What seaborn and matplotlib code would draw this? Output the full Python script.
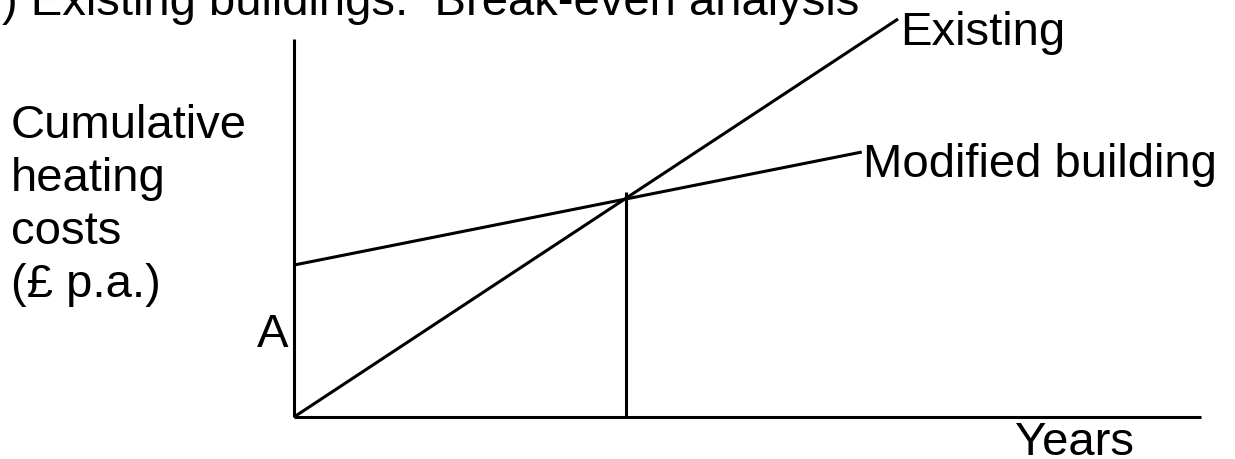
import matplotlib
matplotlib.use("Agg")
import matplotlib.pyplot as plt
import seaborn as sns
import pandas as pd

# break-even sketch: cumulative heating cost vs years (arbitrary units)
existing_years = [0, 6.66]
existing_cost = [0, 10.53]
modified_years = [0, 6.26]
modified_cost = [4.02, 7.01]
breakeven_year = 3.66
breakeven_top = 5.95

sns.set_style("white")
plt.rcParams['font.family'] = ['Liberation Sans', 'DejaVu Sans']
plt.rcParams['text.color'] = 'black'

df = pd.concat([
    pd.DataFrame({'years': existing_years, 'cost': existing_cost, 'type': 'Existing'}),
    pd.DataFrame({'years': modified_years, 'cost': modified_cost, 'type': 'Modified building'}),
], ignore_index=True)

fig = plt.figure(figsize=(12.35, 4.6), dpi=100)
ax = fig.add_axes([0, 0, 1, 1])

lw = 2.2
sns.lineplot(data=df, x='years', y='cost', hue='type', units='type', estimator=None,
             palette=['black', 'black'], linewidth=lw, legend=False, ax=ax,
             solid_capstyle='butt')
ax.plot([breakeven_year, breakeven_year], [0, breakeven_top], color='black', lw=lw,
        solid_capstyle='butt')

ax.set_xlim(-294 / 90.7, (1235 - 294) / 90.7)
ax.set_ylim(-(460 - 418) / 37.8, 418 / 37.8)

for s in ['top', 'right']:
    ax.spines[s].set_visible(False)
ax.spines['left'].set_position(('data', 0))
ax.spines['bottom'].set_position(('data', 0))
ax.spines['left'].set_bounds(0, 10)
ax.spines['bottom'].set_bounds(0, 10)
for s in ['left', 'bottom']:
    ax.spines[s].set_color('black')
    ax.spines[s].set_linewidth(lw)
    ax.spines[s].set_capstyle('butt')
ax.set_xticks([])
ax.set_yticks([])
ax.set_xlabel('')
ax.set_ylabel('')

fs = 34
ax.text(existing_years[1] + 0.02, existing_cost[1] - 0.66, 'Existing', fontsize=fs,
        ha='left', va='baseline', color='black')
ax.text(modified_years[1] + 0.01, modified_cost[1] - 0.63, 'Modified building', fontsize=fs,
        ha='left', va='baseline', color='black')
ax.text(7.95, -0.97, 'Years', fontsize=fs, ha='left', va='baseline', color='black')
ax.text(-0.41, 1.88, 'A', fontsize=fs, ha='left', va='baseline', color='black')

W, H = 1235, 460
fig.text(2 / W, 1 - 15 / H, ') Existing buildings:  Break-even analysis', fontsize=fs,
         ha='left', va='baseline', color='black')
for i, line in enumerate(['Cumulative', 'heating', 'costs', '(\u00a3 p.a.)']):
    fig.text(11 / W, 1 - (138 + 53 * i) / H, line, fontsize=fs, ha='left', va='baseline',
             color='black')

fig.savefig('out.png', dpi=100)
